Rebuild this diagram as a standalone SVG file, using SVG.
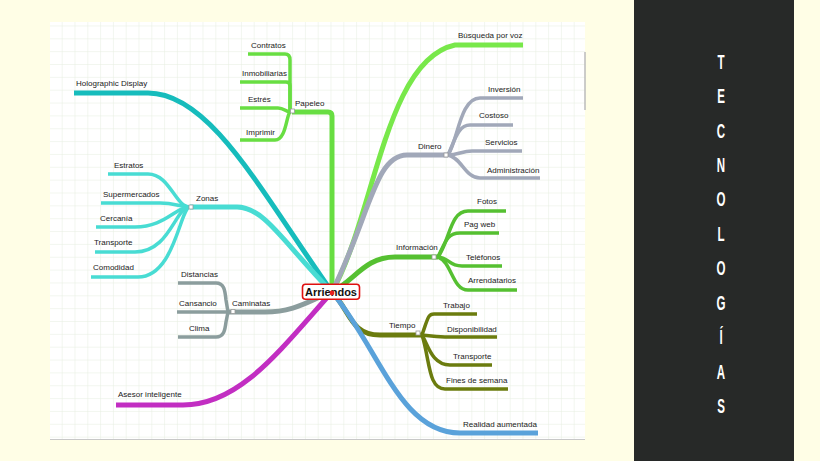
<svg xmlns="http://www.w3.org/2000/svg" width="820" height="461" viewBox="0 0 820 461">
<defs>
<pattern id="grid" x="48.9" y="25.45" width="12.8" height="12.85" patternUnits="userSpaceOnUse">
<path d="M0,0 V12.85 M0,0 H12.8" fill="none" stroke="#e6eedf" stroke-width="1"/>
</pattern>
<style>
.t{font-family:"Liberation Sans",Arial,sans-serif;font-size:8px;fill:#222}
.c{fill:none;stroke-linecap:butt;stroke-linejoin:round}
.m{stroke-width:5}
.s{stroke-width:3.5}
.teal{stroke:#16bcbc}
.zon{stroke:#48dcd3}
.cam{stroke:#8b9d9d}
.mag{stroke:#c22ec2}
.pap{stroke:#68de42}
.bus{stroke:#78e84a}
.din{stroke:#a1a8b9}
.inf{stroke:#55c031}
.tie{stroke:#6b7c0e}
.rea{stroke:#5aa2da}
.jn{fill:#fff;stroke:#999;stroke-width:0.8}
.side{font-family:"Liberation Sans",Arial,sans-serif;font-weight:bold;font-size:21px;fill:#fff;text-anchor:middle}
</style>
</defs>
<rect x="0" y="0" width="820" height="461" fill="#fffee6"/>
<rect x="50" y="22" width="535" height="417" fill="#fff"/>
<rect x="50" y="22" width="535" height="417" fill="url(#grid)"/>
<line x1="50" y1="439.5" x2="585" y2="439.5" stroke="#c8c8c8" stroke-width="1"/>
<line x1="585" y1="52" x2="585" y2="110" stroke="#bbb" stroke-width="1.5"/>
<rect x="634" y="0" width="160" height="461" fill="#272928"/>
<g id="titulo">
<text class="side" transform="translate(721,68.5) scale(0.55,1)">T</text>
<text class="side" transform="translate(721,103) scale(0.55,1)">E</text>
<text class="side" transform="translate(721,137.5) scale(0.55,1)">C</text>
<text class="side" transform="translate(721,172) scale(0.55,1)">N</text>
<text class="side" transform="translate(721,206) scale(0.55,1)">O</text>
<text class="side" transform="translate(721,240.5) scale(0.55,1)">L</text>
<text class="side" transform="translate(721,275) scale(0.55,1)">O</text>
<text class="side" transform="translate(721,309.5) scale(0.55,1)">G</text>
<text class="side" transform="translate(721,344) scale(0.55,1)">Í</text>
<text class="side" transform="translate(721,379) scale(0.55,1)">A</text>
<text class="side" transform="translate(721,413) scale(0.55,1)">S</text>
</g>
<g id="connectors">
<path class="c m teal" d="M332,292 C260,190 210,93 148,93 L74,93"/>
<path class="c m zon" d="M332,292 C285,245 265,207 237,207 L190,207"/>
<path class="c s zon" d="M190,207 C175,207 170,174 148,174 L108,174"/>
<path class="c s zon" d="M190,207 C180,207 175,203 160,203 L101,203"/>
<path class="c s zon" d="M190,207 C175,207 165,227 135,227 L96,227"/>
<path class="c s zon" d="M190,207 C175,207 170,252 135,252 L95,252"/>
<path class="c s zon" d="M190,207 C180,207 175,277 138,277 L91,277"/>
<path class="c m cam" d="M332,292 C310,300 295,312 265,312 L228,312"/>
<path class="c s cam" d="M228,312 L226,300 C225,290 224,283 216,283 L178,283"/>
<path class="c s cam" d="M228,312 L177,312"/>
<path class="c s cam" d="M228,312 L226,322 C225,330 224,337 216,337 L178,337"/>
<path class="c m mag" d="M332,292 C280,350 240,405 183,405 L116,405"/>
<path class="c m pap" d="M332,292 L332,116 Q332,112 328,112 L292,112"/>
<path class="c s pap" d="M290,112 L290,60 Q290,54 285,54 L248,54"/>
<path class="c s pap" d="M290,112 L290,86 Q290,82 286,82 L240,82"/>
<path class="c s pap" d="M290,112 C286,112 284,108 278,108 L240,108"/>
<path class="c s pap" d="M291,112 C286,112 287,140 275,140 L240,140"/>
<path class="c m bus" d="M332,292 C375,215 385,60 455,45 L523,45"/>
<path class="c m din" d="M332,292 C370,215 375,155 407,155 L448,155"/>
<path class="c s din" d="M448,155 C458,140 460,98 480,98 L523,98"/>
<path class="c s din" d="M448,155 C455,140 458,125 470,125 L513,125"/>
<path class="c s din" d="M448,155 C458,155 462,151 472,151 L522,151"/>
<path class="c s din" d="M448,155 C462,158 465,178 480,178 L540,178"/>
<path class="c m inf" d="M332,292 C355,280 365,257 395,257 L438,257"/>
<path class="c s inf" d="M438,257 C450,240 450,211 468,211 L506,211"/>
<path class="c s inf" d="M438,257 C446,240 448,233 460,233 L499,233"/>
<path class="c s inf" d="M438,257 C450,258 448,266 462,266 L502,266"/>
<path class="c s inf" d="M438,257 C452,262 452,290 468,290 L517,290"/>
<path class="c m tie" d="M332,292 C350,310 350,335 380,335 L422,335"/>
<path class="c s tie" d="M422,335 C428,318 428,314 434,314 L477,314"/>
<path class="c s tie" d="M422,335 C430,336 435,337 445,337 L497,337"/>
<path class="c s tie" d="M422,335 C428,345 432,365 450,365 L492,365"/>
<path class="c s tie" d="M422,335 C430,360 428,389 445,389 L508,389"/>
<path class="c m rea" d="M332,292 C380,350 400,433 460,433 L538,433"/>
<rect class="jn" x="290.5" y="109" width="4" height="4"/>
<rect class="jn" x="189" y="205" width="4" height="4"/>
<rect class="jn" x="231" y="309.5" width="4" height="4"/>
<rect class="jn" x="444" y="153" width="4" height="4"/>
<rect class="jn" x="432" y="255" width="4" height="4"/>
<rect class="jn" x="416" y="331" width="4" height="4"/>
</g>
<g id="arriendos">
<rect x="302.5" y="284.3" width="57" height="15" rx="3" fill="#fff" stroke="#e01010" stroke-width="1.6"/>
<text x="331" y="296" text-anchor="middle" font-family="Liberation Sans, Arial, sans-serif" font-weight="bold" font-size="11" fill="#111">Arriendos</text>
<circle cx="332" cy="293" r="2.4" fill="#e82020"/>
</g>
<g id="holographic"><text class="t" x="76" y="86">Holographic Display</text></g>
<g id="zonas"><text class="t" x="196" y="201">Zonas</text></g>
<g id="estratos"><text class="t" x="114" y="168">Estratos</text></g>
<g id="supermercados"><text class="t" x="103" y="197">Supermercados</text></g>
<g id="cercania"><text class="t" x="100" y="221">Cercanía</text></g>
<g id="transporte-z"><text class="t" x="94" y="245">Transporte</text></g>
<g id="comodidad"><text class="t" x="93" y="270">Comodidad</text></g>
<g id="caminatas"><text class="t" x="232" y="306">Caminatas</text></g>
<g id="distancias"><text class="t" x="181" y="277">Distancias</text></g>
<g id="cansancio"><text class="t" x="179" y="306">Cansancio</text></g>
<g id="clima"><text class="t" x="189" y="331">Clima</text></g>
<g id="asesor"><text class="t" x="118" y="397">Asesor inteligente</text></g>
<g id="papeleo"><text class="t" x="295" y="106">Papeleo</text></g>
<g id="contratos"><text class="t" x="251" y="48">Contratos</text></g>
<g id="inmobiliarias"><text class="t" x="242" y="76">Inmobiliarias</text></g>
<g id="estres"><text class="t" x="248" y="102">Estrés</text></g>
<g id="imprimir"><text class="t" x="246" y="135">Imprimir</text></g>
<g id="busqueda"><text class="t" x="458" y="38">Búsqueda por voz</text></g>
<g id="dinero"><text class="t" x="418" y="149">Dinero</text></g>
<g id="inversion"><text class="t" x="488" y="92">Inversión</text></g>
<g id="costoso"><text class="t" x="479" y="118">Costoso</text></g>
<g id="servicios"><text class="t" x="485" y="145">Servicios</text></g>
<g id="administracion"><text class="t" x="487" y="173">Administración</text></g>
<g id="informacion"><text class="t" x="396" y="250">Información</text></g>
<g id="fotos"><text class="t" x="477" y="204">Fotos</text></g>
<g id="pagweb"><text class="t" x="464" y="227">Pag web</text></g>
<g id="telefonos"><text class="t" x="466" y="260">Teléfonos</text></g>
<g id="arrendatarios"><text class="t" x="468" y="283">Arrendatarios</text></g>
<g id="tiempo"><text class="t" x="389" y="328">Tiempo</text></g>
<g id="trabajo"><text class="t" x="443" y="308">Trabajo</text></g>
<g id="disponibilidad"><text class="t" x="447" y="332">Disponibilidad</text></g>
<g id="transporte-t"><text class="t" x="453" y="359">Transporte</text></g>
<g id="fines"><text class="t" x="446" y="383">Fines de semana</text></g>
<g id="realidad"><text class="t" x="463" y="427">Realidad aumentada</text></g>
</svg>
